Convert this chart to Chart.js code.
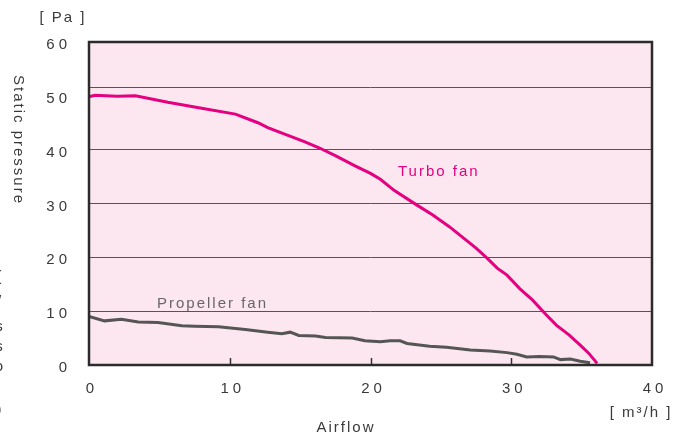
<!DOCTYPE html>
<html>
<head>
<meta charset="utf-8">
<script src="https://cdn.jsdelivr.net/npm/chart.js@4"></script>
<style>
  html, body { margin: 0; padding: 0; background: #fff; }
  #wrap { width: 677px; height: 434px; }
</style>
</head>
<body>
<div id="wrap"><canvas id="fanChart" width="677" height="434"></canvas></div>
<script>
// Données
const turboX = [0, 0.4, 2, 3.3, 5.6, 8, 10.4, 12, 12.7, 13.9, 15.3, 16.3, 17.5, 18.9, 20, 20.7, 21.7, 23.3, 24.4, 25.6, 27.5, 28.3, 29, 29.7, 30.6, 31.5, 32.5, 33.2, 34.1, 34.9, 35.5, 36.1];
const turboY = [49.8, 50.1, 49.9, 50, 48.8, 47.7, 46.6, 45, 44.1, 42.9, 41.5, 40.4, 38.9, 37, 35.6, 34.5, 32.4, 29.7, 27.9, 25.7, 21.7, 19.8, 18, 16.7, 14.2, 12.1, 9.3, 7.4, 5.6, 3.7, 2.2, 0.3];

const propX = [0, 1.1, 2.3, 3.5, 4.9, 6.6, 7.5, 9.2, 11.1, 12.7, 13.7, 14.3, 14.9, 16.1, 16.8, 18.7, 19.6, 20.7, 21.4, 22.1, 22.6, 24.2, 25.4, 27.1, 28.5, 29.7, 30.4, 31.1, 32, 33, 33.5, 34.2, 34.9, 35.6];
const propY = [9.0, 8.2, 8.5, 8.0, 7.9, 7.3, 7.2, 7.1, 6.6, 6.1, 5.8, 6.1, 5.5, 5.4, 5.1, 5.0, 4.5, 4.3, 4.5, 4.5, 4.0, 3.5, 3.3, 2.8, 2.6, 2.3, 2.0, 1.5, 1.6, 1.5, 1.0, 1.1, 0.7, 0.4];

const xTicks = [0, 10, 20, 30, 40];
const yTicks = [0, 10, 20, 30, 40, 50, 60];
// lignes horizontales telles que dessinées (celle du haut est décalée dans l'original)
const gridLineValues = [10, 20, 30, 40, 51.5];

const seriesNames = ['Turbo fan', 'Propeller fan'];

const FONT = 'Liberation Sans, Arial, sans-serif';
const ctx = document.getElementById('fanChart').getContext('2d');

const toPoints = (xs, ys) => xs.map((x, i) => ({ x: x, y: ys[i] }));

// Fond, cadre, petits traits et textes
const decorPlugin = {
  id: 'decor',
  beforeDraw(chart) {
    const c = chart.ctx;
    const a = chart.chartArea;
    c.save();
    c.fillStyle = '#fce7f0';
    c.fillRect(a.left, a.top, a.right - a.left, a.bottom - a.top);
    c.restore();
    c.letterSpacing = '4px';
  },
  afterDraw(chart) {
    const c = chart.ctx;
    const a = chart.chartArea;
    const xs = chart.scales.x;
    c.save();
    c.letterSpacing = '0px';
    // traits vers l'intérieur sur l'axe x
    c.strokeStyle = '#333';
    c.lineWidth = 1.5;
    xTicks.slice(1, -1).forEach(v => {
      const px = Math.round(xs.getPixelForValue(v)) + 0.5;
      c.beginPath();
      c.moveTo(px, a.bottom);
      c.lineTo(px, a.bottom - 7);
      c.stroke();
    });
    // cadre
    c.strokeStyle = '#2b2b2b';
    c.lineWidth = 2.5;
    c.strokeRect(a.left, a.top, a.right - a.left, a.bottom - a.top);

    c.letterSpacing = '2px';
    c.font = '15px ' + FONT;
    c.textBaseline = 'middle';
    c.fillStyle = '#3a3a3a';
    c.textAlign = 'center';
    c.fillText('[ Pa ]', 63, 18);
    c.fillText('[ m\u00b3/h ]', 641, 413);
    c.fillText('Airflow', 346, 428);

    c.fillStyle = '#e4007f';
    c.textAlign = 'left';
    c.fillText(seriesNames[0], 398, 172);
    c.fillStyle = '#666';
    c.fillText(seriesNames[1], 157, 304);

    // titre vertical
    c.save();
    c.fillStyle = '#3a3a3a';
    c.translate(18, 140);
    c.rotate(Math.PI / 2);
    c.textAlign = 'center';
    c.fillText('Static pressure', 0, 0);
    c.restore();

    // texte coupé au bord gauche
    c.letterSpacing = '0px';
    c.fillStyle = '#3a3a3a';
    c.textAlign = 'center';
    const cut = ['.', '(', '/', 's', 's', 'o', ':', ')'];
    const cutY = [260, 277, 302, 327, 347, 367, 387, 410];
    cut.forEach((ch, i) => c.fillText(ch, -1, cutY[i]));
    c.restore();
    c.letterSpacing = '0px';
  }
};

const fanChart = new Chart(ctx, {
  type: 'scatter',
  data: {
    datasets: [
      {
        label: seriesNames[0],
        data: toPoints(turboX, turboY),
        showLine: true,
        borderColor: '#e4007f',
        borderWidth: 3,
        pointRadius: 0,
        tension: 0
      },
      {
        label: seriesNames[1],
        data: toPoints(propX, propY),
        showLine: true,
        borderColor: '#555555',
        borderWidth: 3,
        pointRadius: 0,
        tension: 0
      }
    ]
  },
  options: {
    responsive: false,
    animation: false,
    devicePixelRatio: 1,
    layout: { padding: { top: 42, right: 25, left: 0, bottom: 0 } },
    plugins: {
      legend: { display: false },
      tooltip: { enabled: false }
    },
    scales: {
      x: {
        type: 'linear',
        min: 0,
        max: 40,
        afterBuildTicks: s => { s.ticks = xTicks.map(v => ({ value: v })); },
        afterFit: s => { s.height = 69; },
        grid: { display: false, drawTicks: false },
        border: { display: false },
        ticks: {
          padding: 15,
          labelOffset: 3,
          color: '#3a3a3a',
          font: { family: FONT, size: 15 },
          maxRotation: 0
        }
      },
      y: {
        min: 0,
        max: 60,
        position: 'left',
        afterBuildTicks: s => { s.ticks = yTicks.map(v => ({ value: v })); },
        afterFit: s => { s.width = 89; },
        grid: { display: false, drawTicks: false },
        border: { display: false },
        ticks: {
          padding: 18,
          labelOffset: 3,
          color: '#3a3a3a',
          font: { family: FONT, size: 15 }
        }
      },
      yGrid: {
        min: 0,
        max: 60,
        position: 'left',
        afterBuildTicks: s => { s.ticks = gridLineValues.map(v => ({ value: v })); },
        afterFit: s => { s.width = 0; },
        grid: { color: '#555', lineWidth: 1, drawTicks: false },
        border: { display: false },
        ticks: { display: false }
      }
    }
  },
  plugins: [decorPlugin]
});
</script>
</body>
</html>
